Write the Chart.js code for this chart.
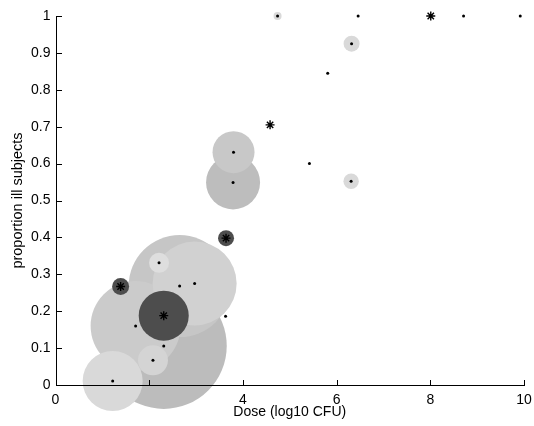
<!DOCTYPE html>
<html>
<head>
<meta charset="utf-8">
<script src="https://cdn.jsdelivr.net/npm/chart.js@4/dist/chart.umd.min.js"></script>
<style>
html,body{margin:0;padding:0;background:#fff;}
#wrap{width:534px;height:426px;position:relative;}
</style>
</head>
<body>
<div id="wrap"><canvas id="c" width="534" height="426"></canvas></div>
<script>
// ---- data ----
const doseLog10 = [2.31, 2.65, 1.71, 2.97, 1.22, 2.08, 2.21, 3.79, 3.80, 6.31, 6.32, 4.74, 2.31, 1.39, 3.64, 3.63, 6.46, 8.01, 8.71, 9.92, 5.81, 4.58, 5.42];
const proportionIll = [0.106, 0.268, 0.160, 0.275, 0.011, 0.067, 0.331, 0.549, 0.631, 0.552, 0.925, 1.0, 0.188, 0.267, 0.398, 0.186, 1.0, 1.0, 1.0, 1.0, 0.845, 0.705, 0.600];
const studySize = [63, 51, 45, 42, 30, 15, 10, 27, 21, 7.7, 8, 4, 25, 8.5, 8, 0, 0, 0, 0, 0, 0, 0, 0];
const shadeLevel = [188, 198, 203, 209, 217, 212, 222, 189, 200, 217, 217, 217, 77, 77, 77, 255, 255, 255, 255, 255, 255, 255, 255];
const isAsterisk = [0,0,0,0,0,0,0,0,0,0,0,0,1,1,1,0,0,1,0,0,0,1,0];
const xTickValues = [0, 2, 4, 6, 8, 10];
const yTickValues = [0, 0.1, 0.2, 0.3, 0.4, 0.5, 0.6, 0.7, 0.8, 0.9, 1];
const xTitle = 'Dose (log10 CFU)';
const yTitle = 'proportion ill subjects';

// ---- build datasets ----
const bubbles = [], bubbleColors = [], dots = [], stars = [];
doseLog10.forEach((x, i) => {
  const y = proportionIll[i];
  if (studySize[i] > 0) {
    bubbles.push({x, y, r: studySize[i]});
    const g = shadeLevel[i];
    bubbleColors.push('rgb(' + g + ',' + g + ',' + g + ')');
  }
  if (isAsterisk[i]) stars.push({x, y}); else dots.push({x, y});
});

const FONT = '"Liberation Sans", Arial, Helvetica, sans-serif';
Chart.defaults.color = '#000';
Chart.defaults.font.family = FONT;

// axis lines + inward tick marks (MATLAB style), drawn on top of the marks
const axesOnTop = {
  id: 'axesOnTop',
  afterDraw(chart) {
    const ctx = chart.ctx, xs = chart.scales.x, ys = chart.scales.y;
    const x0 = Math.round(xs.left), y0 = Math.round(ys.bottom);
    const x1 = Math.round(xs.right), y1 = Math.round(ys.top);
    ctx.save();
    ctx.fillStyle = '#000';
    ctx.fillRect(x0, y0, x1 - x0 + 1, 1);
    ctx.fillRect(x0, y1, 1, y0 - y1 + 1);
    xTickValues.forEach(v => {
      const px = Math.round(xs.getPixelForValue(v));
      ctx.fillRect(px, y0 - 5, 1, 5);
    });
    yTickValues.forEach(v => {
      const py = Math.round(ys.getPixelForValue(v));
      ctx.fillRect(x0, py, 6, 1);
    });
    ctx.restore();
  }
};

new Chart(document.getElementById('c'), {
  type: 'bubble',
  data: {
    datasets: [
      {
        type: 'scatter', data: stars, pointStyle: 'star', pointRadius: 4.5,
        borderColor: '#000', backgroundColor: '#000', borderWidth: 1.4, order: 0, clip: false
      },
      {
        type: 'scatter', data: dots, pointStyle: 'circle', pointRadius: 1.5,
        borderWidth: 0, backgroundColor: '#000', order: 1, clip: false
      },
      {
        type: 'bubble', data: bubbles, backgroundColor: bubbleColors,
        borderWidth: 0, order: 2, clip: false
      }
    ]
  },
  options: {
    responsive: false,
    animation: false,
    events: [],
    layout: {autoPadding: false, padding: {top: 16, right: 10, left: 0, bottom: 0}},
    plugins: {legend: {display: false}, tooltip: {enabled: false}},
    scales: {
      x: {
        type: 'linear', min: 0, max: 10,
        afterBuildTicks: s => { s.ticks = xTickValues.map(v => ({value: v})); },
        afterFit: s => { s.height = 41; s.paddingLeft = 0; s.paddingRight = 0; },
        grid: {display: false, drawTicks: false},
        border: {display: false},
        ticks: {padding: 7, font: {size: 14, family: FONT}, color: '#000', maxRotation: 0},
        title: {display: true, text: xTitle, font: {size: 14, family: FONT}, color: '#000', padding: {top: 0, bottom: 5}}
      },
      y: {
        type: 'linear', min: 0, max: 1,
        afterBuildTicks: s => { s.ticks = yTickValues.map(v => ({value: v})); },
        afterFit: s => { s.width = 55.5; s.paddingTop = 0; s.paddingBottom = 0; },
        grid: {display: false, drawTicks: false},
        border: {display: false},
        ticks: {padding: 5, font: {size: 14, family: FONT}, color: '#000', callback: v => String(+v.toFixed(1))},
        title: {display: true, text: yTitle, font: {size: 14.5, family: FONT}, color: '#000', padding: {top: 9, bottom: 0}}
      }
    }
  },
  plugins: [axesOnTop]
});
</script>
</body>
</html>
